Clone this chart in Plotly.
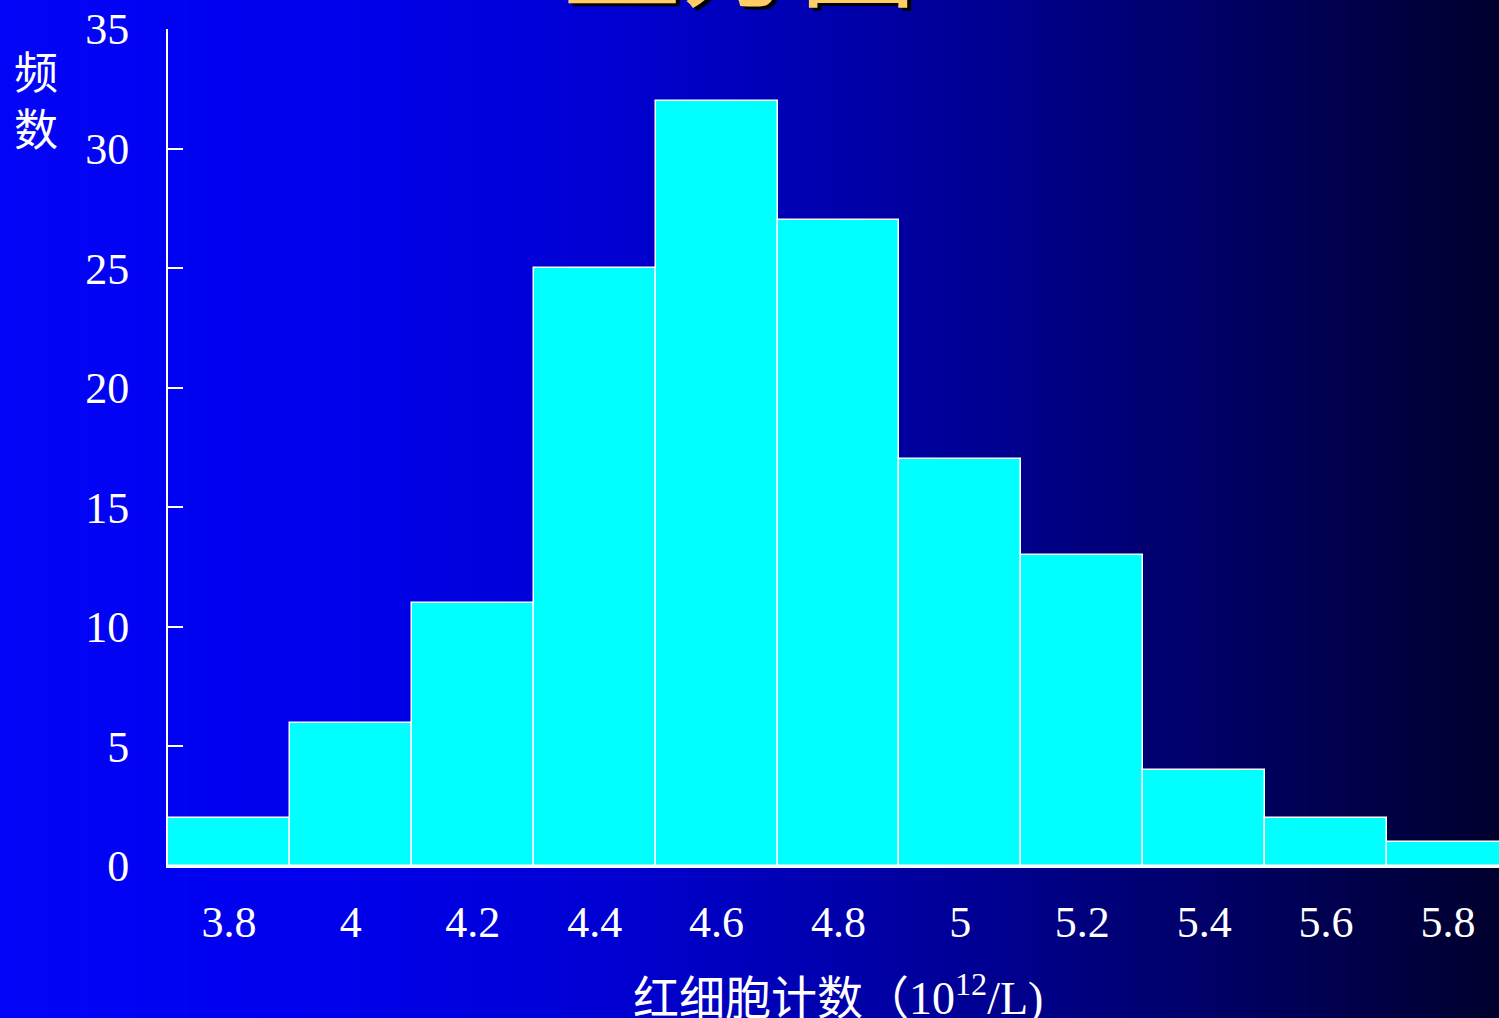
import plotly.graph_objects as go

# ---- data ----
bin_centers = [3.8, 4.0, 4.2, 4.4, 4.6, 4.8, 5.0, 5.2, 5.4, 5.6, 5.8]
tick_labels = ["3.8", "4", "4.2", "4.4", "4.6", "4.8", "5", "5.2", "5.4", "5.6", "5.8"]
frequencies = [2, 6, 11, 25, 32, 27, 17, 13, 4, 2, 1]
bin_width = 0.2

title_text = "直方图"
x_title = "红细胞计数（10<sup>12</sup>/L)"
y_title = "频<br>数"

# ---- gradient stops (left bright blue -> right navy) ----
stops = [(0.0, (4, 4, 248)), (0.2, (0, 0, 238)), (0.4, (0, 0, 212)),
         (0.6, (0, 0, 162)), (0.8, (0, 0, 105)), (1.0, (0, 0, 45))]

def grad_color(t):
    for (t0, c0), (t1, c1) in zip(stops[:-1], stops[1:]):
        if t <= t1:
            f = (t - t0) / (t1 - t0)
            return tuple(int(round(a + (b - a) * f)) for a, b in zip(c0, c1))
    return stops[-1][1]

# ---- layout geometry ----
FW, FH = 1499, 1018
ML, MR, MT, MB = 168, 0, 29, 152
PW, PH = FW - ML - MR, FH - MT - MB

font_fam = "Liberation Serif, Noto Sans CJK SC, serif"

def px_to_paper_x(px):
    return (px - ML) / PW

def py_to_paper_y(py):
    return 1 - (py - MT) / PH

fig = go.Figure()
fig.add_trace(go.Bar(
    x=bin_centers, y=frequencies, width=bin_width,
    marker=dict(color="#00FFFF", line=dict(color="white", width=1.5)),
    hoverinfo="x+y",
))

x_left = bin_centers[0] - bin_width / 2
x_right = x_left + bin_width * PW / 121.9

# background gradient strips
shapes = []
N = 150
step = FW / N
for i in range(N):
    c = grad_color((i + 0.5) / N)
    shapes.append(dict(
        type="rect", xref="paper", yref="paper", layer="below",
        x0=px_to_paper_x(i * step - 1), x1=px_to_paper_x((i + 1) * step + 1),
        y0=py_to_paper_y(FH + 2), y1=py_to_paper_y(-2),
        fillcolor="rgb(%d,%d,%d)" % c, line=dict(width=0),
    ))

fig.update_layout(
    width=FW, height=FH,
    margin=dict(l=ML, r=MR, t=MT, b=MB, pad=0),
    paper_bgcolor="#0000c8",
    plot_bgcolor="rgba(0,0,0,0)",
    showlegend=False,
    bargap=0,
    shapes=shapes,
    font=dict(family=font_fam, color="white", size=44),
    xaxis=dict(
        range=[x_left, x_right], tickmode="array", tickvals=bin_centers,
        ticktext=tick_labels, showgrid=False, zeroline=False,
        showline=True, linecolor="white", linewidth=2, ticks="",
        tickfont=dict(size=44, color="white", family=font_fam),
        ticklabelstandoff=16,
    ),
    yaxis=dict(
        range=[0, 35], tickmode="linear", tick0=0, dtick=5,
        showgrid=False, zeroline=False, showline=True, linecolor="white",
        linewidth=2, ticks="inside", ticklen=15, tickwidth=2, tickcolor="white",
        tickfont=dict(size=44, color="white", family=font_fam),
        ticklabelstandoff=28,
    ),
)

# title (cut off at top), with dark shadow
title_x = px_to_paper_x(740)
title_y = py_to_paper_y(-54)
fig.add_annotation(text=title_text, xref="paper", yref="paper",
                   x=title_x + 4 / PW, y=title_y - 4 / PH, showarrow=False,
                   xanchor="center", yanchor="middle",
                   font=dict(size=118, color="black", family="Noto Sans CJK SC"))
fig.add_annotation(text=title_text, xref="paper", yref="paper",
                   x=title_x, y=title_y, showarrow=False,
                   xanchor="center", yanchor="middle",
                   font=dict(size=118, color="#FFCC66", family="Noto Sans CJK SC"))

# x-axis title
fig.add_annotation(text=x_title, xref="paper", yref="paper",
                   x=px_to_paper_x(838), y=py_to_paper_y(995), showarrow=False,
                   xanchor="center", yanchor="middle",
                   font=dict(size=46, color="white", family=font_fam))

# y-axis title (stacked)
fig.add_annotation(text=y_title, xref="paper", yref="paper",
                   x=px_to_paper_x(36), y=py_to_paper_y(103), showarrow=False,
                   xanchor="center", yanchor="middle",
                   font=dict(size=44, color="white", family=font_fam))

fig.write_html("out.html")
